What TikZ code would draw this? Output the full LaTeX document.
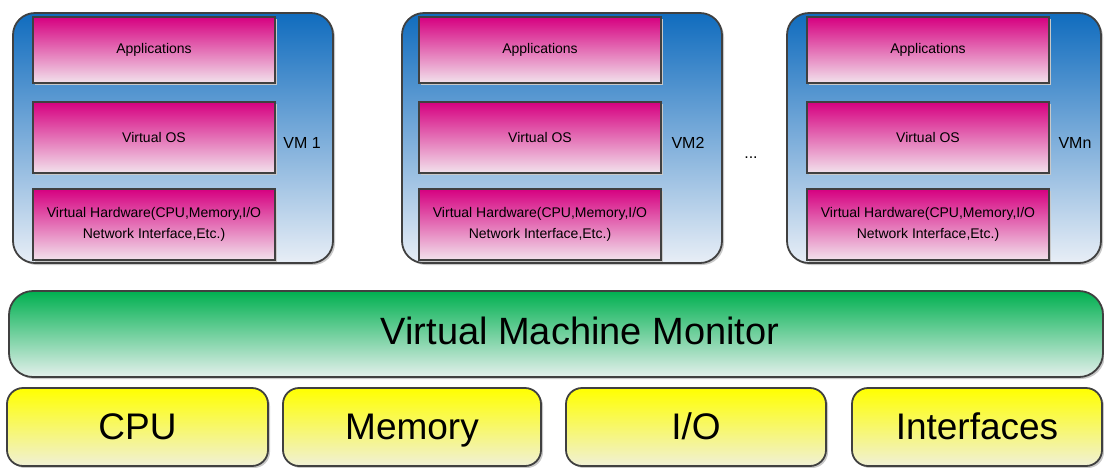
\documentclass[tikz,border=0pt]{standalone}
\usepackage{fontspec}
\setmainfont{Liberation Sans}
\usetikzlibrary{shadows}
\definecolor{bordercol}{RGB}{64,64,64}
\definecolor{vmtop}{RGB}{16,108,190}
\definecolor{vmbot}{RGB}{232,238,246}
\definecolor{pinktop}{RGB}{214,0,128}
\definecolor{pinkbot}{RGB}{242,226,236}
\definecolor{greentop}{RGB}{0,176,80}
\definecolor{greenbot}{RGB}{228,240,236}
\definecolor{yeltop}{RGB}{255,255,0}
\definecolor{yelbot}{RGB}{240,240,214}
\definecolor{shadowcol}{RGB}{200,200,200}
\tikzset{
  shd/.style={drop shadow={shadow xshift=2pt, shadow yshift=-2pt, fill=shadowcol, opacity=1}},
  vmbox/.style={draw=bordercol, line width=1.8pt, rounded corners=22pt, top color=vmtop, bottom color=vmbot, inner sep=0pt, outer sep=0pt, shd},
  layer/.style={draw=bordercol, line width=1.8pt, top color=pinktop, bottom color=pinkbot, minimum width=242pt, inner sep=0pt, outer sep=0pt, align=center, font=\fontsize{14}{21}\selectfont, shd},
  vmlabel/.style={font=\fontsize{16}{19}\selectfont, inner sep=0pt},
  vmmbox/.style={draw=bordercol, line width=1.8pt, rounded corners=24pt, top color=greentop, bottom color=greenbot, minimum width=1094pt, minimum height=86pt, inner sep=0pt, outer sep=0pt, shd},
  hwbox/.style={draw=bordercol, line width=1.8pt, rounded corners=16pt, top color=yeltop, bottom color=yelbot, minimum height=78pt, inner sep=0pt, outer sep=0pt, text height=30pt, text depth=6pt, font=\fontsize{37}{44}\selectfont, shd},
}
\begin{document}
\begin{tikzpicture}[x=1pt,y=-1pt]
\useasboundingbox (0,0) rectangle (1104,467);
% VM boxes
\node[vmbox, minimum width=320pt, minimum height=250pt] (vm1) at (173,138) {};
\node[vmbox, minimum width=320pt, minimum height=250pt] (vm2) at (562,138) {};
\node[vmbox, minimum width=314pt, minimum height=250pt] (vmn) at (944,138) {};
% layers VM1
\node[layer, minimum height=66pt] (app1) at (154,50) {Applications};
\node[layer, minimum height=71pt] (os1) at (154,137.5) {Virtual OS};
\node[layer, minimum height=71pt] (hw1) at (154,224.5) {Virtual Hardware(CPU,Memory,I/O\\Network Interface,Etc.)};
% layers VM2
\node[layer, minimum height=66pt] (app2) at (540,50) {Applications};
\node[layer, minimum height=71pt] (os2) at (540,137.5) {Virtual OS};
\node[layer, minimum height=71pt] (hw2) at (540,224.5) {Virtual Hardware(CPU,Memory,I/O\\Network Interface,Etc.)};
% layers VMn
\node[layer, minimum height=66pt] (appn) at (928,50) {Applications};
\node[layer, minimum height=71pt] (osn) at (928,137.5) {Virtual OS};
\node[layer, minimum height=71pt] (hwn) at (928,224.5) {Virtual Hardware(CPU,Memory,I/O\\Network Interface,Etc.)};
% labels
\node[vmlabel] (l1) at (302,143) {VM 1};
\node[vmlabel] (l2) at (688,143) {VM2};
\node[vmlabel] (ln) at (1075,143) {VMn};
\node[vmlabel] (dots) at (751,158) {...};
% VMM
\node[vmmbox] (vmm) at (556,334) {};
\node[font=\fontsize{38}{46}\selectfont, inner sep=0pt] (vmmlabel) at (580,331) {Virtual Machine Monitor};
% hardware
\node[hwbox, minimum width=261pt] (cpu) at (137.5,427) {CPU};
\node[hwbox, minimum width=258pt] (mem) at (412,427) {Memory};
\node[hwbox, minimum width=260pt] (io) at (696,427) {I/O};
\node[hwbox, minimum width=250pt] (intf) at (977,427) {Interfaces};
\end{tikzpicture}
\end{document}
